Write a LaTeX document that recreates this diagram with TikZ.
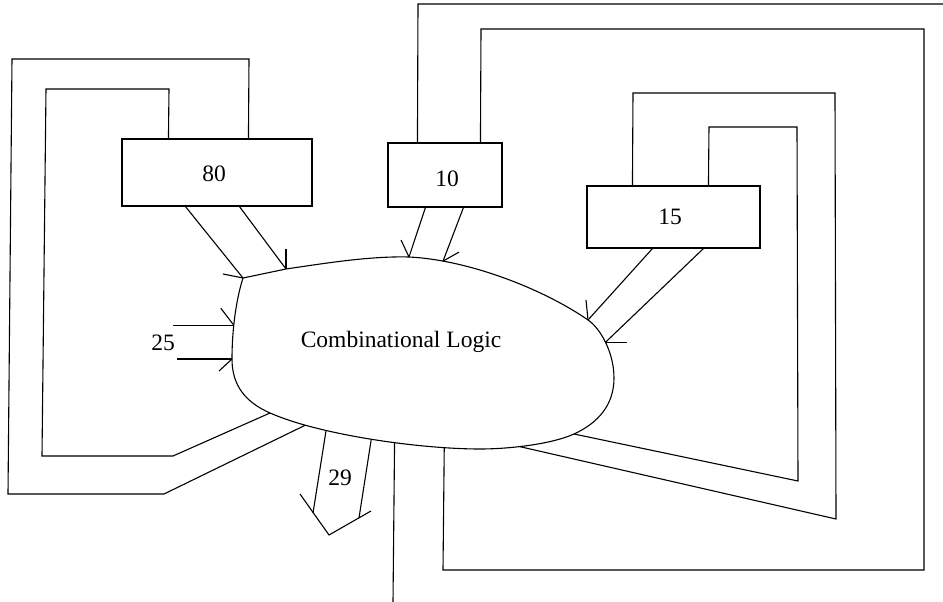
\documentclass[tikz,border=0pt]{standalone}
\usepackage{fontspec}
\setmainfont{Liberation Serif}
\begin{document}
\begin{tikzpicture}[x=1pt,y=-1pt,line width=1.1pt,line join=miter,
  wire/.style={draw=black},
  barb/.style={draw=black},
  regbox/.style={draw=black,rectangle,inner sep=0pt},
  lbl/.style={inner sep=0pt,font=\fontsize{23.5}{28}\selectfont}]
\useasboundingbox (0,0) rectangle (943,602);

% registers
\node[regbox,minimum width=190pt,minimum height=67pt] (b80) at (217,172.5) {};
\node[lbl] (t80) at (214,174) {80};
\node[regbox,minimum width=114pt,minimum height=64pt] (b10) at (445,175) {};
\node[lbl] (t10) at (447,179) {10};
\node[regbox,minimum width=173pt,minimum height=62pt] (b15) at (673.5,217) {};
\node[lbl] (t15) at (670,217) {15};

% combinational logic cloud, with named points on its outline
\coordinate (p1) at (243,278);
\coordinate (p2) at (286,269);
\coordinate (p4) at (409,257);
\coordinate (p8) at (588,320);
\coordinate (p10) at (614,378);
\coordinate (p12) at (574,434);
\coordinate (p14) at (480,449);
\coordinate (p20) at (270,413);
\coordinate (p24) at (232,359);
\draw (p1) -- (p2)
  .. controls (327,263) and (370,256) .. (p4)
  .. controls (470,260) and (545,290) .. coordinate[pos=0.18] (p5) (p8)
  .. controls (600,328) and (614,352) .. coordinate[pos=0.5] (p9) (p10)
  .. controls (614,405) and (598,423) .. (p12)
  .. controls (552,444) and (510,449) .. coordinate[pos=0.6] (p13) (p14)
  .. controls (420,449) and (320,435) ..
     coordinate[pos=0.18] (p15) coordinate[pos=0.4] (p16) coordinate[pos=0.5] (p17)
     coordinate[pos=0.7] (p18) coordinate[pos=0.8] (p19) (p20)
  .. controls (245,402) and (232,385) .. (p24)
  .. controls (232,330) and (236,300) .. coordinate[pos=0.39] (p25) (p1);
\node[lbl] (cl) at (401,342) {Combinational Logic};

% register 80 inputs into the cloud
\draw[wire] ([xshift=64pt]b80.south west) -- (p1);
\draw[barb] (p1) -- ++(-20,-4);
\draw[wire] ([xshift=118pt]b80.south west) -- (p2);
\draw[barb] (p2) -- ++(0,-20);

% register 10 inputs
\draw[wire] ([xshift=38pt]b10.south west) -- (p4);
\draw[barb] (p4) -- ++(-8,-17);
\draw[wire] ([xshift=76pt]b10.south west) -- (p5);
\draw[barb] (p5) -- ++(16,-9);

% register 15 inputs
\draw[wire] ([xshift=66pt]b15.south west) -- (p8);
\draw[barb] (p8) -- ++(-2,-20);
\draw[wire] ([xshift=117pt]b15.south west) -- (p9);
\draw[barb] (p9) -- ++(21,0);

% primary inputs (25)
\coordinate (i1) at (173,325);
\coordinate (i2) at (177,359);
\draw[wire] (p25 -| i1) -- (p25);
\draw[barb] (p25) -- ++(-13,-17);
\draw[wire] (i2) -- (p24);
\draw[barb] (p24) -- ++(-13,12);
\node[lbl] (l25) at (163,343) {25};

% primary outputs (29)
\coordinate (o1) at (313,513);
\coordinate (o2) at (359,518);
\coordinate (o3) at (329,535);
\draw[wire] (p18) -- (o1);
\draw[wire] (p17) -- (o2);
\draw[barb] (300,494) -- (o3) -- (371,511);
\node[lbl] (l29) at (340,478) {29};

% single output line
\draw[wire] (p16) -- (393,602);

% feedback loops of register 80
\draw[wire] ([xshift=127pt]b80.north west) -- (249,59) -- (12,59) -- (8,494) -- (164,494) -- (p19);
\draw[wire] ([xshift=47pt]b80.north west) -- (169,89) -- (46,89) -- (42,456) -- (173,456) -- (p20);

% feedback loops of register 10
\draw[wire] ([xshift=30pt]b10.north west) -- (418,4) -- (946,4);
\draw[wire] ([xshift=93pt]b10.north west) -- (481,29) -- (924,29) -- (924,570) -- (443,570) -- (p15);

% feedback loops of register 15
\draw[wire] ([xshift=46pt]b15.north west) -- (633,93) -- (835,93) -- (836,519) -- (p13);
\draw[wire] ([xshift=122pt]b15.north west) -- (709,127) -- (797,127) -- (798,481) -- (p12);
\end{tikzpicture}
\end{document}
